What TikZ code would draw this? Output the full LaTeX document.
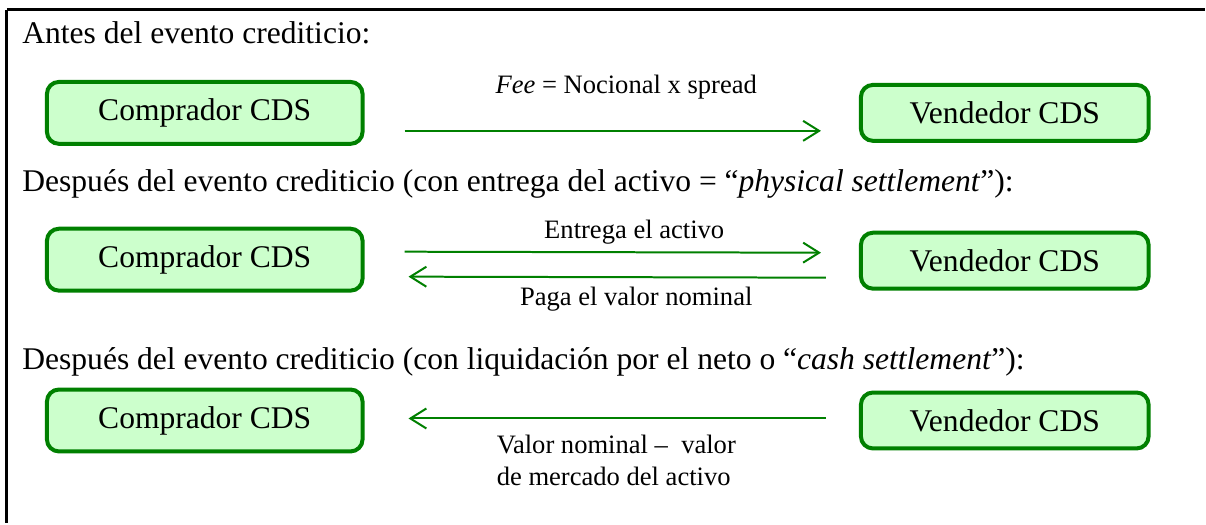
\documentclass[tikz,border=0pt]{standalone}
\usepackage{fontspec}
\setmainfont{Liberation Serif}
\usetikzlibrary{arrows.meta}
\definecolor{cdsgreen}{HTML}{008000}
\definecolor{cdsfill}{HTML}{CCFFCC}

\begin{document}
\begin{tikzpicture}[
                      x = 0.5pt,
                      y = -0.5pt,
           party/.style = {draw=cdsgreen, fill=cdsfill, line width=2pt,
                           rounded corners=6pt, inner sep=0pt,
                           font=\fontsize{15.8}{19}\selectfont},
           buyer/.style = {party, minimum width=158pt, minimum height=31pt},
          seller/.style = {party, minimum width=144pt, minimum height=28pt},
         heading/.style = {anchor=base west, inner sep=0pt,
                           font=\fontsize{15.8}{19}\selectfont},
        flowtext/.style = {inner sep=0pt, font=\fontsize{13.3}{16}\selectfont},
            flow/.style = {draw=cdsgreen, line width=1pt,
                           -{Straight Barb[length=8pt,width=10pt]}},
                     ]
\fill[white] (0,0) rectangle (1206,524);
% frame (right and bottom sides fall outside the picture)
\coordinate (frame) at (7,10);
\draw[line width=1.5pt] (frame) -- (1206,10);
\draw[line width=1.5pt] (frame) -- (7,524);

% before the credit event
\node[heading] (head1) at (22,44) {Antes del evento crediticio:};
\node[buyer]  (buy1) at (205,113) {Comprador CDS};
\node[seller] (sel1) at (1006,113) {Vendedor CDS};
\draw[flow] ([shift={(20pt,-9pt)}]buy1.east) -- ([shift={(-19pt,-9pt)}]sel1.west);
\node[flowtext] (fee) at (627,87) {\textit{Fee} = Nocional x spread};

% physical settlement
\node[heading] (head2) at (22,192)
    {Después del evento crediticio (con entrega del activo = “\textit{physical settlement}”):};
\node[buyer]  (buy2) at (205,260) {Comprador CDS};
\node[seller] (sel2) at (1006,261) {Vendedor CDS};
\draw[flow] ([shift={(20pt,4pt)}]buy2.east) -- ([shift={(-19pt,4pt)}]sel2.west);
\draw[flow] ([shift={(-16.5pt,-8.5pt)}]sel2.west) -- ([shift={(22pt,-8.5pt)}]buy2.east);
\node[flowtext] (deliver) at (635,232) {Entrega el activo};
\node[flowtext] (pay) at (637,300) {Paga el valor nominal};

% cash settlement
\node[heading] (head3) at (22,370)
    {Después del evento crediticio (con liquidación por el neto o “\textit{cash settlement}”):};
\node[buyer]  (buy3) at (205,421) {Comprador CDS};
\node[seller] (sel3) at (1006,421) {Vendedor CDS};
\draw[flow] ([shift={(-16.5pt,1pt)}]sel3.west) -- ([shift={(22pt,1pt)}]buy3.east);
\node[flowtext, anchor=west, align=left] (net) at (497,461)
    {Valor nominal –\ \ valor\\de mercado del activo};
\end{tikzpicture}
\end{document}
